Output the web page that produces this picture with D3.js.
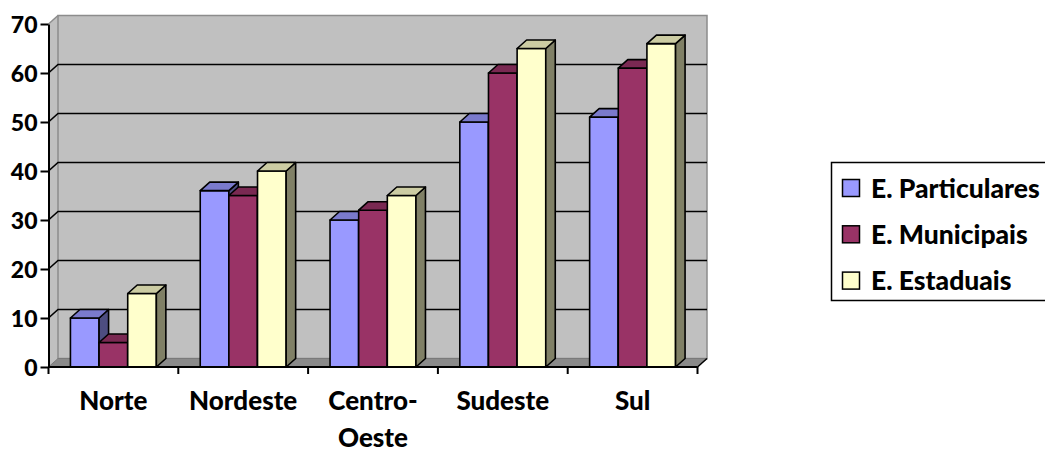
<!DOCTYPE html>
<html>
<head>
<meta charset="utf-8">
<script src="https://cdn.jsdelivr.net/npm/d3@7"></script>
<style>
  html, body { margin: 0; padding: 0; background: #fff; }
  svg { display: block; }
  text { font-family: "Lato", "Open Sans", sans-serif; font-weight: 900; fill: #000; }
</style>
</head>
<body>
<svg id="chart" width="1045" height="453"></svg>
<script>
// ---- data ----
const categories = ["Norte", "Nordeste", "Centro-Oeste", "Sudeste", "Sul"];
const seriesNames = ["E. Particulares", "E. Municipais", "E. Estaduais"];
const particulares = [10, 36, 30, 50, 51];
const municipais = [5, 35, 32, 60, 61];
const estaduais = [15, 40, 35, 65, 66];
const seriesColors = ["#9999FF", "#993366", "#FFFFCC"];
const yTicks = [0, 10, 20, 30, 40, 50, 60, 70];

const seriesValues = [particulares, municipais, estaduais];

// ---- layout ----
const svg = d3.select("#chart");
const X0 = 48.5, X1 = 697.5;      // front plane x extent
const Y0 = 367, YTOP = 24;        // front plane y for 0 and 70
const DX = 9.5, DY = -8.5;        // depth offset

const x = d3.scaleBand().domain(categories).range([X0, X1]).padding(0);
const groupW = x.bandwidth() * 0.662;
const xs = d3.scaleBand().domain(seriesNames).range([0, groupW]).padding(0);
const y = d3.scaleLinear().domain([0, 70]).range([Y0, YTOP]);

const shade = (c, k) => { const r = d3.rgb(c); return d3.rgb(r.r * k, r.g * k, r.b * k).formatHex(); };
const pts = a => a.map(p => p.join(",")).join(" ");

// side wall
svg.append("polygon")
  .attr("points", pts([[X0, y(0)], [X0, y(70)], [X0 + DX, y(70) + DY], [X0 + DX, y(0) + DY]]))
  .attr("fill", "#c0c0c0");
// back wall
svg.append("rect")
  .attr("x", X0 + DX).attr("y", y(70) + DY)
  .attr("width", X1 - X0).attr("height", y(0) - y(70))
  .attr("fill", "#c0c0c0").attr("stroke", "#8c8c8c").attr("stroke-width", 1.5);
// side wall top edge
svg.append("line")
  .attr("x1", X0).attr("y1", y(70)).attr("x2", X0 + DX).attr("y2", y(70) + DY)
  .attr("stroke", "#8c8c8c").attr("stroke-width", 1.5);
// floor
svg.append("polygon")
  .attr("points", pts([[X0, y(0)], [X1, y(0)], [X1 + DX, y(0) + DY], [X0 + DX, y(0) + DY]]))
  .attr("fill", "#8a8a8a").attr("stroke", "#7a7a7a").attr("stroke-width", 1);

// gridlines
const grid = svg.append("g").attr("stroke", "#000").attr("stroke-width", 1.6).attr("fill", "none");
yTicks.filter(v => v > 0 && v < 70).forEach(v => {
  grid.append("polyline")
    .attr("points", pts([[X0, y(v)], [X0 + DX, y(v) + DY], [X1 + DX, y(v) + DY]]));
});

// bars
const bars = svg.append("g").attr("stroke", "#000").attr("stroke-width", 1.6).attr("stroke-linejoin", "round");
categories.forEach((cat, ci) => {
  const gx = x(cat) + (x.bandwidth() - groupW) / 2;
  seriesNames.forEach((s, si) => {
    const v = seriesValues[si][ci];
    const bx = gx + xs(s), w = xs.bandwidth(), yv = y(v), yb = y(0);
    const col = seriesColors[si];
    bars.append("rect").attr("x", bx).attr("y", yv).attr("width", w).attr("height", yb - yv).attr("fill", col);
    bars.append("polygon")
      .attr("points", pts([[bx + w, yv], [bx + w + DX, yv + DY], [bx + w + DX, yb + DY], [bx + w, yb]]))
      .attr("fill", shade(col, 0.5));
    bars.append("polygon")
      .attr("points", pts([[bx, yv], [bx + DX, yv + DY], [bx + w + DX, yv + DY], [bx + w, yv]]))
      .attr("fill", shade(col, 0.8));
  });
});

// y axis
const yAxis = svg.append("g").attr("transform", `translate(${X0},0)`)
  .call(d3.axisLeft(y).tickValues(yTicks).tickSize(8).tickPadding(3).tickSizeOuter(0));
yAxis.select(".domain").attr("stroke", "#000").attr("stroke-width", 2);
yAxis.selectAll(".tick line").attr("stroke", "#000").attr("stroke-width", 2);
yAxis.selectAll(".tick text").attr("font-size", 23).attr("font-family", "Lato").attr("font-weight", 900).attr("fill", "#000").attr("dy", "0.36em");

// x axis
const xa = svg.append("g");
xa.append("line").attr("x1", X0).attr("x2", X1).attr("y1", Y0).attr("y2", Y0).attr("stroke", "#000").attr("stroke-width", 2);
xa.append("line").attr("x1", X1).attr("y1", Y0).attr("x2", X1 + DX).attr("y2", Y0 + DY).attr("stroke", "#000").attr("stroke-width", 1.5);
const tickXs = categories.map(c => x(c)).concat([X1]);
xa.selectAll(".xt").data(tickXs).join("line")
  .attr("x1", d => d).attr("x2", d => d).attr("y1", Y0).attr("y2", Y0 + 7)
  .attr("stroke", "#000").attr("stroke-width", 2);
const lab = xa.selectAll(".xl").data(categories).join("text")
  .attr("text-anchor", "middle").attr("font-size", 26)
  .attr("transform", d => `translate(${x(d) + x.bandwidth() / 2},0)`);
lab.each(function (d) {
  const parts = d.includes("-") ? [d.slice(0, d.indexOf("-") + 1), d.slice(d.indexOf("-") + 1)] : [d];
  parts.forEach((p, i) => d3.select(this).append("tspan").attr("x", 0).attr("y", 410 + i * 37).text(p));
});

// legend
const lg = svg.append("g");
lg.append("rect").attr("x", 831.5).attr("y", 162.5).attr("width", 230).attr("height", 138)
  .attr("fill", "#fff").attr("stroke", "#000").attr("stroke-width", 1.5);
seriesNames.forEach((s, i) => {
  const by = 197.5 + i * 46.3;
  lg.append("rect").attr("x", 842.5).attr("y", by - 18).attr("width", 17).attr("height", 17)
    .attr("fill", seriesColors[i]).attr("stroke", "#000").attr("stroke-width", 1.5);
  lg.append("text").attr("x", 871).attr("y", by).attr("font-size", 26.5).text(s);
});
</script>
</body>
</html>
